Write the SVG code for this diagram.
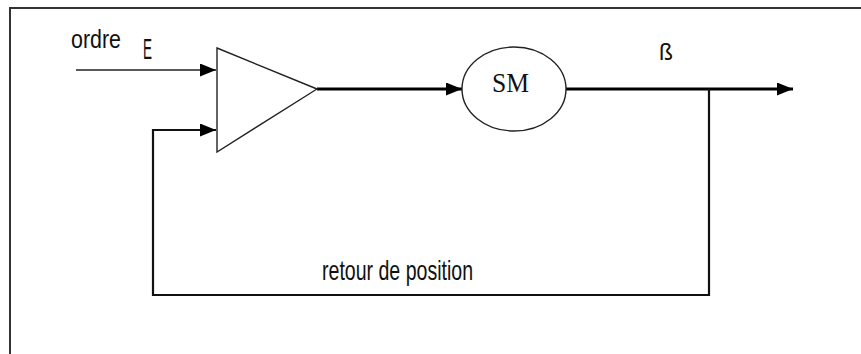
<svg xmlns="http://www.w3.org/2000/svg" width="861" height="354" viewBox="0 0 861 354">
  <style>
    .frame { stroke: #333; stroke-width: 2; fill: none; }
    .thin { stroke: #222; stroke-width: 1.6; fill: none; }
    .thick { stroke: #000; stroke-width: 3; fill: none; }
    .mid { stroke: #111; stroke-width: 2.2; fill: none; }
    .shape { stroke: #222; stroke-width: 1.4; fill: #fff; }
    .lbl { font-family: "Liberation Sans", Arial, sans-serif; fill: #111; }
    .serif { font-family: "Liberation Serif", "Times New Roman", serif; fill: #111; }
  </style>
  <defs>
    <marker id="arr" markerUnits="userSpaceOnUse" markerWidth="18" markerHeight="14" refX="16" refY="6.5" orient="auto">
      <path d="M0,0 L16,6.5 L0,13 Z" fill="#000"/>
    </marker>
  </defs>

  <rect width="861" height="354" fill="#fff"/>

  <!-- open frame: top and left edges only -->
  <path class="frame" d="M10,354 V8 H861"/>

  <g id="connectors">
    <!-- set-point input -->
    <path class="thin" d="M76,70 H216" marker-end="url(#arr)"/>
    <!-- amplifier output to motor -->
    <path class="thick" d="M317,89 H462" marker-end="url(#arr)"/>
    <!-- motor output -->
    <path class="thick" d="M566,89 H793" marker-end="url(#arr)"/>
    <!-- position feedback loop -->
    <path class="mid" d="M709,89 V295 H153 V130 H216" marker-end="url(#arr)"/>
  </g>

  <g id="amplifier">
    <path class="shape" d="M217,48 L317,89 L217,152 Z"/>
  </g>

  <g id="motor">
    <ellipse class="shape" cx="514" cy="89" rx="52" ry="42"/>
    <text class="serif" x="492" y="92" font-size="27" textLength="37" lengthAdjust="spacingAndGlyphs">SM</text>
  </g>

  <g id="labels">
    <text class="lbl" x="71" y="48" font-size="25" textLength="50" lengthAdjust="spacingAndGlyphs">ordre</text>
    <text class="lbl" x="143" y="59" font-size="30" textLength="9" lengthAdjust="spacingAndGlyphs">E</text>
    <text class="lbl" x="659" y="60" font-size="24" textLength="14" lengthAdjust="spacingAndGlyphs">ß</text>
    <text class="lbl" x="322" y="280" font-size="28" textLength="151" lengthAdjust="spacingAndGlyphs">retour de position</text>
  </g>
</svg>
